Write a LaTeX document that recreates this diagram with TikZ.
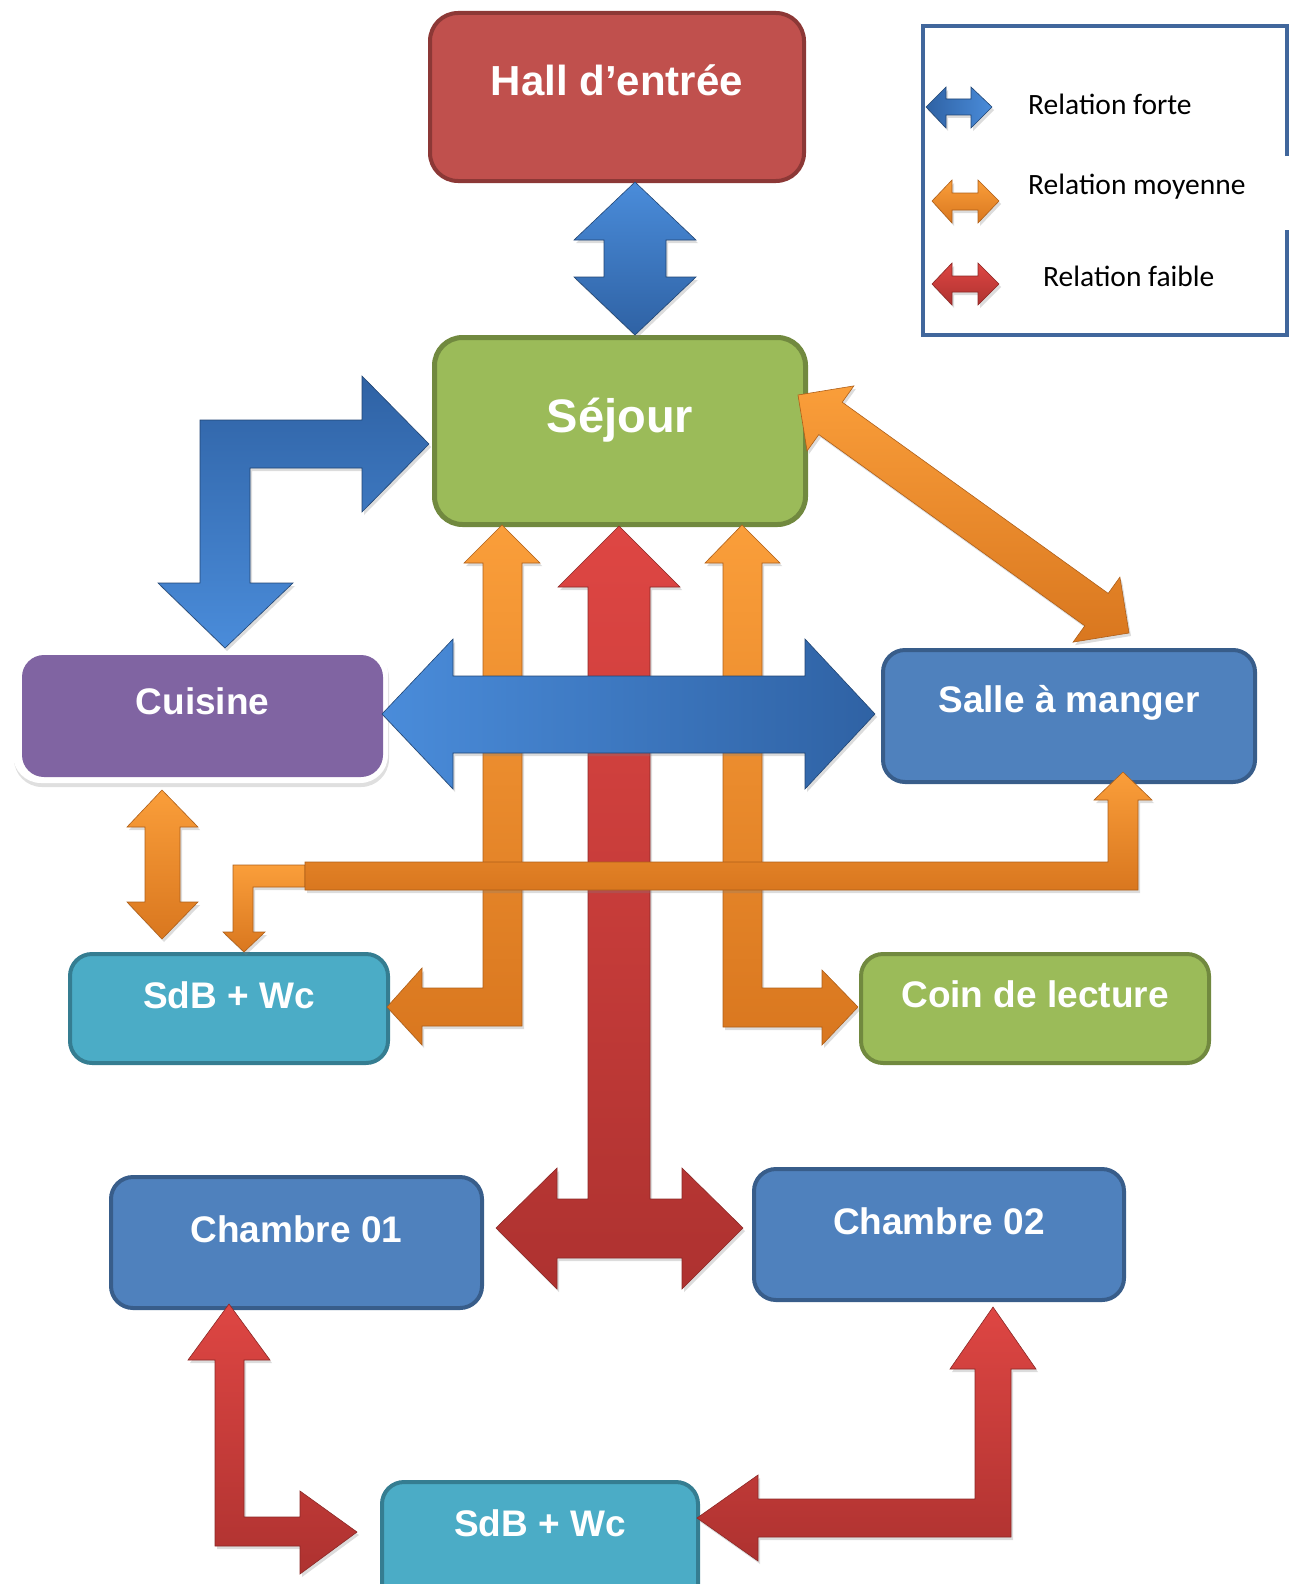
\documentclass[tikz,border=0pt]{standalone}
\usepackage{fontspec}
\setmainfont{Liberation Sans}
\newfontfamily\legfont{Carlito}
\usetikzlibrary{shadows}
\definecolor{hallF}{HTML}{C0504D}
\definecolor{hallD}{HTML}{8C3836}
\definecolor{greenF}{HTML}{9BBB59}
\definecolor{greenD}{HTML}{71893F}
\definecolor{purpF}{HTML}{8064A2}
\definecolor{blueF}{HTML}{4F81BD}
\definecolor{blueD}{HTML}{385D8A}
\definecolor{aquaF}{HTML}{4BACC6}
\definecolor{aquaD}{HTML}{357D91}
\definecolor{legD}{HTML}{41679C}
\definecolor{arBlueL}{HTML}{4A8CDA}
\definecolor{arBlueM}{HTML}{3C78C4}
\definecolor{arBlueD}{HTML}{2F62A4}
\definecolor{arOrL}{HTML}{FA9E3A}
\definecolor{arOrM}{HTML}{F08A2A}
\definecolor{arOrD}{HTML}{D9771F}
\definecolor{arRedL}{HTML}{DE4643}
\definecolor{arRedM}{HTML}{CC3D3A}
\definecolor{arRedD}{HTML}{AE3230}
\tikzset{
  box/.style={rounded corners=22pt, line width=4pt, text=white,
    font=\bfseries\fontsize{37}{40}\selectfont, inner sep=0pt, anchor=north west},
  ashadow/.style={drop shadow={opacity=0.28, shadow xshift=2pt, shadow yshift=-3pt}},
  bluearrow/.style={ashadow, draw=arBlueD!70!black, line width=0.6pt, line join=miter},
  orarrow/.style={ashadow, draw=arOrD!80!black, line width=0.6pt, line join=miter, top color=arOrL, bottom color=arOrD},
  redarrow/.style={ashadow, draw=arRedD!80!black, line width=0.6pt, line join=miter},
  legtext/.style={anchor=base west, inner sep=0pt, font=\legfont\fontsize{29.5}{31}\selectfont}
}
\begin{document}
\begin{tikzpicture}[x=1pt, y=-1pt]
\useasboundingbox (0,0) rectangle (1296,1584);

% ---------- boxes ----------
\node[box, fill=hallF, draw=hallD, rounded corners=28pt, minimum width=374, minimum height=168,
      text height=83, text depth=85, font=\bfseries\fontsize{42}{44}\selectfont] (hall) at (428,11) {Hall d’entrée};
\node[box, fill=greenF, draw=greenD, rounded corners=28pt, line width=5pt, minimum width=371, minimum height=187,
      text height=95, text depth=92, font=\bfseries\fontsize{47}{50}\selectfont] (sejour) at (432,335) {Séjour};
\fill[white, rounded corners=28pt, drop shadow={opacity=0.25, shadow xshift=1pt, shadow yshift=-4pt}] (13,646) rectangle (388,783);
\node[box, fill=purpF, draw=none, minimum width=361, minimum height=122,
      text height=59, text depth=63] (cuisine) at (20,653) {Cuisine};
\node[box, fill=blueF, draw=blueD, minimum width=372, minimum height=132,
      text height=62, text depth=70] (salle) at (881,648) {Salle à manger};
\node[box, fill=aquaF, draw=aquaD, minimum width=318, minimum height=109,
      text height=54, text depth=55] (sdb1) at (68,952) {SdB + Wc};
\node[box, fill=greenF, draw=greenD, minimum width=348, minimum height=109,
      text height=53, text depth=56] (coin) at (859,952) {Coin de lecture};
\node[box, fill=blueF, draw=blueD, minimum width=371, minimum height=131,
      text height=65, text depth=66] (ch1) at (109,1175) {Chambre 01};
\node[box, fill=blueF, draw=blueD, minimum width=370, minimum height=131,
      text height=65, text depth=66] (ch2) at (752,1167) {Chambre 02};
\node[box, fill=aquaF, draw=aquaD, minimum width=316, minimum height=125,
      text height=54, text depth=71] (sdb2) at (380,1480) {SdB + Wc};

% ---------- arrows ----------
% Hall <-> Sejour
\path[bluearrow, top color=arBlueL, bottom color=arBlueD]
  (635,182) -- (696,240) -- (666,240) -- (666,277) -- (696,277) -- (635,335)
  -- (574,277) -- (604,277) -- (604,240) -- (574,240) -- cycle;
% Sejour <-> Cuisine (elbow)
\path[bluearrow, top color=arBlueD, bottom color=arBlueL]
  (429,444) -- (362,512) -- (362,468) -- (250,468) -- (250,583) -- (293,583)
  -- (225,648) -- (158,583) -- (200,583) -- (200,420) -- (362,420) -- (362,376) -- cycle;
% Sejour <-> Salle (diagonal)
\path[orarrow]
  (798,395) -- (853.9,385.9) -- (842.2,402.2) -- (1108.2,593.4) -- (1119.9,577.1)
  -- (1129,633) -- (1073.1,642.1) -- (1084.8,625.8) -- (818.8,434.6) -- (807.1,450.9) -- cycle;
% Sejour <-> Chambres (red T)
\path[redarrow, top color=arRedL, bottom color=arRedD]
  (619,526) -- (680,587) -- (650,587) -- (650,1199) -- (682,1199) -- (682,1168)
  -- (743,1228) -- (682,1289) -- (682,1258) -- (557,1258) -- (557,1289) -- (496,1228)
  -- (557,1168) -- (557,1199) -- (588,1199) -- (588,587) -- (558,587) -- cycle;
% Sejour <-> SdB (orange left elbow)
\path[orarrow]
  (502,525) -- (540,563) -- (522,563) -- (522,1026) -- (422,1026) -- (422,1045)
  -- (387,1007) -- (422,968) -- (422,988) -- (483,988) -- (483,563) -- (464,563) -- cycle;
% Sejour <-> Coin de lecture (orange right elbow)
\path[orarrow]
  (742,525) -- (780,563) -- (762,563) -- (762,988) -- (822,988) -- (822,970)
  -- (858,1007) -- (822,1045) -- (822,1027) -- (723,1027) -- (723,563) -- (705,563) -- cycle;
% Cuisine <-> Salle (blue horizontal)
\path[bluearrow, left color=arBlueL, right color=arBlueD]
  (382,714) -- (453,639) -- (453,676) -- (805,676) -- (805,639) -- (875,714)
  -- (805,789) -- (805,753) -- (453,753) -- (453,789) -- cycle;
% Cuisine <-> SdB
\path[orarrow]
  (162,790) -- (198,827) -- (180,827) -- (180,902) -- (198,902) -- (162,939)
  -- (127,902) -- (145,902) -- (145,827) -- (127,827) -- cycle;
% Salle <-> SdB (long orange)
\path[orarrow]
  (305,865) -- (233,865) -- (233,932) -- (223,932) -- (244,952) -- (265,932)
  -- (253,932) -- (253,887) -- (305,887) -- cycle;
\path[orarrow]
  (1123,772) -- (1152,800) -- (1138,800) -- (1138,890) -- (305,890) -- (305,862)
  -- (1108,862) -- (1108,800) -- (1094,800) -- cycle;
% Chambre 01 <-> SdB
\path[redarrow, top color=arRedL, bottom color=arRedD]
  (229,1304) -- (270,1360) -- (244,1360) -- (244,1517) -- (300,1517) -- (300,1491)
  -- (357,1532) -- (300,1574) -- (300,1546) -- (215,1546) -- (215,1360) -- (188,1360) -- cycle;
% Chambre 02 <-> SdB
\path[redarrow, top color=arRedL, bottom color=arRedD]
  (993,1307) -- (1036,1369) -- (1011,1369) -- (1011,1537) -- (758,1537) -- (758,1561)
  -- (697,1518) -- (758,1475) -- (758,1499) -- (975,1499) -- (975,1369) -- (950,1369) -- cycle;

% ---------- legend ----------
\draw[legD, line width=4pt, line join=miter]
  (1287,156) -- (1287,26) -- (923,26) -- (923,335) -- (1287,335) -- (1287,230);
\path[bluearrow, left color=arBlueD, right color=arBlueL]
  (926,107) -- (946,87) -- (946,99) -- (971,99) -- (971,87) -- (992,107)
  -- (971,128) -- (971,115) -- (946,115) -- (946,128) -- cycle;
\path[orarrow]
  (932,201) -- (952,180) -- (952,193) -- (978,193) -- (978,180) -- (999,201)
  -- (978,223) -- (978,210) -- (952,210) -- (952,223) -- cycle;
\path[redarrow, top color=arRedL, bottom color=arRedD]
  (932,284) -- (952,263) -- (952,276) -- (978,276) -- (978,263) -- (999,284)
  -- (978,305) -- (978,292) -- (952,292) -- (952,305) -- cycle;
\node[legtext] (lforte) at (1028,115) {Relation forte};
\node[legtext] (lmoy) at (1028,194) {Relation moyenne};
\node[legtext] (lfaible) at (1043,286) {Relation faible};
\end{tikzpicture}
\end{document}
